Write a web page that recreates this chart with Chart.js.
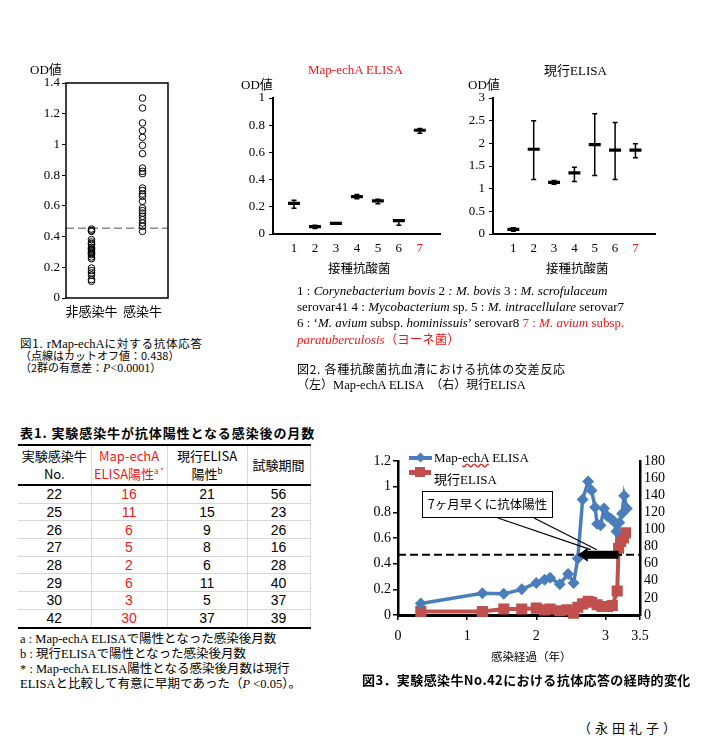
<!DOCTYPE html>
<html lang="ja">
<head>
<meta charset="utf-8">
<title>Map-echA ELISA</title>
<script src="https://cdn.jsdelivr.net/npm/chart.js@4.4.1/dist/chart.umd.min.js"></script>
<style>
  body { margin:0; width:705px; height:744px; position:relative; overflow:hidden; background:#fff; color:#000;
         font-family:'Liberation Serif','Noto Sans CJK JP',serif; }
  canvas { position:absolute; }
  .t { position:absolute; white-space:nowrap; line-height:16px; }
  .g { font-family:'Noto Sans CJK JP',sans-serif; }
  .s { font-family:'Liberation Serif',serif; }
  .red { color:#f01818; }
  #tbl { position:absolute; left:18px; top:444px; width:292px; border-collapse:collapse; table-layout:fixed;
         font-family:'Liberation Sans','Noto Sans CJK JP',sans-serif; font-size:14px; }
  #tbl th { font-weight:normal; font-size:13px; line-height:18px; height:38px; padding:0;
            border-top:2px solid #000; border-bottom:2px solid #000; font-family:'Noto Sans CJK JP',sans-serif; }
  #tbl td { height:16.7px; padding:0; line-height:16px; text-align:center; border-bottom:1px solid #d8d8d8; }
  #tbl th, #tbl td { border-right:1px solid #d8d8d8; }
  #tbl tr:last-child td { border-bottom:2px solid #000; }
  #tbl sup { font-size:8px; line-height:0; }
  #box { position:absolute; border:1.5px solid #000; background:#fff; box-sizing:border-box;
         font-family:'Noto Sans CJK JP',sans-serif; font-size:12.5px; text-align:center; }
</style>
</head>
<body>
<canvas id="fig1" width="160" height="260" style="left:20px;top:70px"></canvas>
<canvas id="fig2a" width="210" height="190" style="left:240px;top:85px"></canvas>
<canvas id="fig2b" width="210" height="190" style="left:455px;top:85px"></canvas>
<canvas id="fig3" width="345" height="215" style="left:350px;top:445px"></canvas>

<!-- Fig.1 texts -->
<div class="t" style="left:30px;top:61px;font-size:13px">OD<span class="g">値</span></div>
<div class="t g" style="left:20px;top:335px;font-size:11.5px;letter-spacing:0.8px">図1. <span class="s" style="font-size:12.5px;letter-spacing:0">rMap-echA</span>に対する抗体応答</div>
<div class="t g" style="left:20px;top:347px;font-size:11px">（点線はカットオフ値：0.438）</div>
<div class="t g" style="left:20px;top:359px;font-size:11px">（2群の有意差：<i class="s" style="font-size:12px">P</i><span class="s" style="font-size:12px">&lt;0.0001</span>）</div>

<!-- Fig.2 texts -->
<div class="t red" style="left:308px;top:62px;font-size:13px">Map-echA ELISA</div>
<div class="t" style="left:241px;top:76px;font-size:13px">OD<span class="g">値</span></div>
<div class="t g" style="left:328px;top:260px;font-size:12.5px">接種抗酸菌</div>
<div class="t" style="left:544px;top:62px;font-size:13px"><span class="g">現行</span>ELISA</div>
<div class="t" style="left:468px;top:76px;font-size:13px">OD<span class="g">値</span></div>
<div class="t g" style="left:546px;top:260px;font-size:12.5px">接種抗酸菌</div>

<div class="t" style="left:297px;top:283px;font-size:13px">1 : <i>Corynebacterium bovis</i> 2 <i>: M. bovis</i> 3 : <i>M. scrofulaceum</i></div>
<div class="t" style="left:297px;top:299px;font-size:13px">serovar41 4 : <i>Mycobacterium</i> sp. 5 : <i>M. intracellulare</i> serovar7</div>
<div class="t" style="left:297px;top:315px;font-size:13px">6 : ‘<i>M. avium</i> subsp. <i>hominissuis</i>’ serovar8 <span class="red">7 : <i>M. avium</i> subsp.</span></div>
<div class="t red" style="left:297px;top:331px;font-size:13px"><i>paratuberculosis</i><span class="g" style="font-size:12.5px">（ヨーネ菌）</span></div>
<div class="t g" style="left:297px;top:361px;font-size:12px;letter-spacing:0.7px">図2. 各種抗酸菌抗血清における抗体の交差反応</div>
<div class="t g" style="left:297px;top:376px;font-size:12px">（左）<span class="s" style="font-size:12.5px">Map-echA ELISA</span>　（右）現行<span class="s" style="font-size:12.5px">ELISA</span></div>

<!-- Table 1 -->
<div class="t g" style="left:20px;top:425px;font-size:13px;font-weight:bold;letter-spacing:0.9px">表1. 実験感染牛が抗体陽性となる感染後の月数</div>
<table id="tbl">
  <colgroup><col style="width:73px"><col style="width:76px"><col style="width:80px"><col style="width:63px"></colgroup>
  <thead><tr>
    <th>実験感染牛<br>No.</th>
    <th class="red">Map-echA<br>ELISA陽性<sup>a *</sup></th>
    <th>現行ELISA<br>陽性<sup>b</sup></th>
    <th>試験期間</th>
  </tr></thead>
  <tbody></tbody>
</table>
<div class="t" style="left:20px;top:630px;font-size:12.5px">a : Map-echA ELISA<span class="g">で陽性となった感染後月数</span></div>
<div class="t" style="left:20px;top:645px;font-size:12.5px">b : <span class="g">現行</span>ELISA<span class="g">で陽性となった感染後月数</span></div>
<div class="t" style="left:20px;top:660px;font-size:12.5px">* : Map-echA ELISA<span class="g">陽性となる感染後月数は現行</span></div>
<div class="t" style="left:20px;top:675px;font-size:12.5px">ELISA<span class="g">と比較して有意に早期であった（</span><i>P</i> &lt;0.05<span class="g">）。</span></div>

<!-- Fig.3 texts -->
<div style="position:absolute;left:409px;top:456px;width:23px;height:4px;background:#4a7ebb"></div>
<div style="position:absolute;left:417px;top:454px;width:7px;height:7px;background:#4a7ebb;transform:rotate(45deg)"></div>
<div class="t" style="left:434px;top:450px;font-size:13px">Map-<span style="text-decoration:underline wavy #e02020">echA</span> ELISA</div>
<div style="position:absolute;left:409px;top:470px;width:22px;height:5px;background:#c0504d"></div>
<div style="position:absolute;left:415px;top:467px;width:10px;height:10px;background:#c0504d"></div>
<div class="t" style="left:434px;top:471px;font-size:13px"><span class="g">現行</span>ELISA</div>
<div id="box">7ヶ月早くに抗体陽性</div>
<div class="t g" style="left:491px;top:648px;font-size:11.5px">感染経過（年）</div>
<div class="t g" style="left:362px;top:672px;font-size:13px;font-weight:bold;letter-spacing:0.4px">図3．実験感染牛No.42における抗体応答の経時的変化</div>

<div class="t g" style="left:578px;top:720px;font-size:13px;letter-spacing:4px">（永田礼子）</div>

<script>
// ---- Fig.1 : rMap-echA OD values
const GROUPS = ['非感染牛', '感染牛'];
const OD_NON_INFECTED = [0.449, 0.44, 0.434, 0.38, 0.365, 0.355, 0.347, 0.33, 0.32, 0.315, 0.305,
  0.297, 0.29, 0.282, 0.267, 0.256, 0.195, 0.178, 0.163, 0.148, 0.12, 0.109];
const OD_INFECTED = [1.302, 1.237, 1.14, 1.09, 1.046, 0.994, 0.94, 0.846, 0.825, 0.81, 0.716, 0.70,
  0.677, 0.662, 0.63, 0.586, 0.569, 0.553, 0.532, 0.51, 0.488, 0.467, 0.434];
const CUTOFF_DRAWN = 0.455;

// ---- Fig.2 : cross reaction, mean and range per strain
const STRAINS = ['1', '2', '3', '4', '5', '6', '7'];
const MAP_MEAN = [0.225, 0.054, 0.078, 0.275, 0.243, 0.098, 0.763];
const MAP_LO   = [0.19, 0.04, 0.078, 0.26, 0.222, 0.064, 0.74];
const MAP_HI   = [0.248, 0.064, 0.078, 0.29, 0.255, 0.105, 0.775];
const CUR_MEAN = [0.1, 1.87, 1.14, 1.35, 1.97, 1.85, 1.85];
const CUR_LO   = [0.06, 1.2, 1.1, 1.16, 1.29, 1.2, 1.68];
const CUR_HI   = [0.14, 2.5, 1.18, 1.47, 2.65, 2.46, 1.99];

// ---- Table 1
const COW_NO      = [22, 25, 26, 27, 28, 29, 30, 42];
const MAP_MONTHS  = [16, 11, 6, 5, 2, 6, 3, 30];
const CUR_MONTHS  = [21, 15, 9, 8, 6, 11, 5, 37];
const TEST_MONTHS = [56, 23, 26, 16, 28, 40, 37, 39];

// ---- Fig.3 : cow No.42 time course
const MAP_YEARS = [0.33, 1.22, 1.53, 1.79, 2.0, 2.12, 2.2, 2.34, 2.46, 2.54, 2.6, 2.67, 2.75, 2.8, 2.85,
  2.88, 2.93, 2.98, 3.03, 3.08, 3.12, 3.16, 3.2, 3.24, 3.27, 3.31];
const MAP_OD = [0.09, 0.17, 0.165, 0.2, 0.25, 0.275, 0.29, 0.24, 0.32, 0.25, 0.44, 0.9, 1.04, 0.97, 0.84,
  0.71, 0.7, 0.83, 0.77, 0.75, 0.73, 0.65, 0.72, 0.79, 0.93, 0.83];
const CUR_YEARS = [0.33, 1.22, 1.53, 1.79, 2.0, 2.12, 2.2, 2.34, 2.44, 2.54, 2.6, 2.67, 2.75, 2.8, 2.88,
  2.95, 3.03, 3.1, 3.17, 3.19, 3.22, 3.26, 3.29];
const CUR_VALUE = [4, 4, 7, 7, 8, 6, 7, 5, 6, 2, 9, 13, 16, 15, 12, 10, 10, 11, 28, 78, 86, 90, 96];
const YEAR_TICKS = [0, 1, 2, 3, 3.5];
const POSITIVE_LINE = 0.47;
const ARROW_YEARS = [3.19, 2.6];   // 現行ELISA positive -> Map-echA positive

Chart.defaults.font.family = "'Liberation Serif', 'Noto Sans CJK JP', serif";
Chart.defaults.font.size = 13;
Chart.defaults.color = '#000';
Chart.defaults.animation = false;
Chart.defaults.plugins.legend.display = false;
Chart.defaults.plugins.tooltip.enabled = false;

const fixW = w => s => { s.width = w; };
const fixH = h => s => { s.height = h; };
const plain = v => String(+(+v).toFixed(2));   // 1 not 1.0, 0.2 not 0.20

// border round the plot area (fig.1)
const frame = {
  id: 'frame',
  afterDraw(chart) {
    const { ctx, chartArea: a } = chart;
    ctx.save();
    ctx.strokeStyle = '#000';
    ctx.lineWidth = 1.5;
    ctx.strokeRect(a.left, a.top, a.right - a.left, a.bottom - a.top);
    ctx.restore();
  }
};

// range bars (fig.2)
const errorBars = {
  id: 'errorBars',
  beforeDatasetsDraw(chart) {
    const { ctx, scales: { x, y } } = chart;
    const ds = chart.data.datasets[0];
    ctx.save();
    ctx.strokeStyle = '#000';
    ctx.lineWidth = 1.5;
    ds.errLo.forEach((lo, i) => {
      const px = x.getPixelForValue(i + 1);
      const top = y.getPixelForValue(ds.errHi[i]);
      const bot = y.getPixelForValue(lo);
      ctx.beginPath();
      ctx.moveTo(px, top); ctx.lineTo(px, bot);
      ctx.moveTo(px - 2.5, top); ctx.lineTo(px + 2.5, top);
      ctx.moveTo(px - 2.5, bot); ctx.lineTo(px + 2.5, bot);
      ctx.stroke();
    });
    ctx.restore();
  }
};

// ---- Fig.1
new Chart(document.getElementById('fig1'), {
  type: 'scatter',
  data: {
    datasets: [
      { data: OD_NON_INFECTED.map(v => ({ x: 1, y: v })) },
      { data: OD_INFECTED.map(v => ({ x: 2, y: v })) },
      { type: 'line', data: [{ x: 0.5, y: CUTOFF_DRAWN }, { x: 2.5, y: CUTOFF_DRAWN }],
        borderColor: '#888', borderWidth: 1.5, borderDash: [8, 4], pointRadius: 0 }
    ]
  },
  options: {
    responsive: false,
    elements: { point: { radius: 3.3, borderWidth: 1, borderColor: '#000', backgroundColor: 'rgba(0,0,0,0)' } },
    layout: { padding: { top: 13, right: 12, bottom: 2, left: 0 } },
    scales: {
      x: {
        type: 'linear', min: 0.5, max: 2.5,
        afterBuildTicks: s => { s.ticks = GROUPS.map((g, i) => ({ value: i + 1 })); },
        ticks: { callback: v => GROUPS[v - 1], padding: 5, autoSkip: false, maxRotation: 0, minRotation: 0,
                 font: { family: "'Noto Sans CJK JP', sans-serif", size: 13 } },
        grid: { display: false, drawTicks: false }, border: { display: false },
        afterFit: fixH(30)
      },
      y: {
        min: 0, max: 1.4,
        ticks: { stepSize: 0.2, padding: 2, callback: plain },
        grid: { drawOnChartArea: false, tickLength: 4, color: '#000' },
        border: { display: false },
        afterFit: fixW(46)
      }
    }
  },
  plugins: [frame]
});

// ---- Fig.2
function crossChart(id, mean, lo, hi, ymax, step, yWidth, padRight) {
  return new Chart(document.getElementById(id), {
    type: 'scatter',
    data: {
      datasets: [{
        data: mean.map((v, i) => ({ x: i + 1, y: v })),
        errLo: lo, errHi: hi,
        pointStyle: 'line', pointRadius: 6, pointBorderWidth: 3.2, borderColor: '#000'
      }]
    },
    options: {
      responsive: false,
      layout: { padding: { top: 13, right: padRight, bottom: 19, left: 0 } },
      scales: {
        x: {
          type: 'linear', min: 0, max: STRAINS.length + 1,
          afterBuildTicks: s => { s.ticks = STRAINS.map((t, i) => ({ value: i + 1 })); },
          ticks: { callback: v => STRAINS[v - 1], padding: 7, autoSkip: false, maxRotation: 0,
                   color: c => c.index === STRAINS.length - 1 ? '#f01818' : '#000' },
          grid: { display: false, drawTicks: false },
          border: { color: '#000', width: 2 },
          afterFit: fixH(22)
        },
        y: {
          min: 0, max: ymax,
          ticks: { stepSize: step, padding: 4, callback: plain },
          grid: { drawOnChartArea: false, tickLength: 4, color: '#000' },
          border: { color: '#000', width: 2 },
          afterFit: fixW(yWidth)
        }
      }
    },
    plugins: [errorBars]
  });
}
crossChart('fig2a', MAP_MEAN, MAP_LO, MAP_HI, 1, 0.2, 33, 8);
crossChart('fig2b', CUR_MEAN, CUR_LO, CUR_HI, 3, 0.5, 38, 7);

// ---- Table 1
const tbody = document.querySelector('#tbl tbody');
COW_NO.forEach((no, i) => {
  const tr = document.createElement('tr');
  tr.innerHTML = `<td>${no}</td><td class="red">${MAP_MONTHS[i]}</td><td>${CUR_MONTHS[i]}</td><td>${TEST_MONTHS[i]}</td>`;
  tbody.appendChild(tr);
});

// ---- Fig.3
const BOX = { dx: 24, dy: 30, w: 131, h: 27 };
const callout = {
  id: 'callout',
  afterDatasetsDraw(chart) {
    const { ctx, chartArea: a, scales: { x, y } } = chart;
    const yy = y.getPixelForValue(POSITIVE_LINE);
    const xTip = x.getPixelForValue(ARROW_YEARS[1]);
    const xEnd = x.getPixelForValue(ARROW_YEARS[0]);
    ctx.save();
    // pointer lines from the box
    ctx.strokeStyle = '#000';
    ctx.lineWidth = 1.2;
    const by = a.top + BOX.dy + BOX.h;
    ctx.beginPath();
    ctx.moveTo(a.left + 100, by); ctx.lineTo(xTip + 13, yy - 5);
    ctx.moveTo(a.left + 136, by); ctx.lineTo(xTip + 19, yy - 5);
    ctx.stroke();
    // big arrow
    ctx.fillStyle = '#000';
    ctx.beginPath();
    ctx.moveTo(xTip, yy);
    ctx.lineTo(xTip + 10, yy - 7);
    ctx.lineTo(xTip + 10, yy - 4);
    ctx.lineTo(xEnd, yy - 4);
    ctx.lineTo(xEnd, yy + 4);
    ctx.lineTo(xTip + 10, yy + 4);
    ctx.lineTo(xTip + 10, yy + 7);
    ctx.closePath();
    ctx.fill();
    ctx.restore();
  }
};

const c3 = document.getElementById('fig3');
const fig3 = new Chart(c3, {
  type: 'scatter',
  data: {
    datasets: [
      { data: [{ x: 0, y: POSITIVE_LINE }, { x: 3.5, y: POSITIVE_LINE }], showLine: true,
        borderColor: '#000', borderWidth: 2, borderDash: [8, 4], pointRadius: 0, yAxisID: 'y' },
      { data: MAP_YEARS.map((v, i) => ({ x: v, y: MAP_OD[i] })), showLine: true, yAxisID: 'y',
        borderColor: '#4a7ebb', backgroundColor: '#4a7ebb', borderWidth: 3.5,
        pointStyle: 'rectRot', pointRadius: 3.5, clip: false },
      { data: CUR_YEARS.map((v, i) => ({ x: v, y: CUR_VALUE[i] })), showLine: true, yAxisID: 'y2',
        borderColor: '#c0504d', backgroundColor: '#c0504d', borderWidth: 4,
        pointStyle: 'rect', pointRadius: 5, clip: false }
    ]
  },
  options: {
    responsive: false,
    layout: { padding: { top: 16, right: 7, bottom: 18, left: 0 } },
    scales: {
      x: {
        type: 'linear', min: 0, max: 3.5,
        afterBuildTicks: s => { s.ticks = YEAR_TICKS.map(v => ({ value: v })); },
        ticks: { font: { size: 14 }, padding: 8, autoSkip: false, maxRotation: 0, callback: plain },
        grid: { drawOnChartArea: false, tickLength: 5, color: '#000', lineWidth: 1.5 },
        border: { color: '#000', width: 3 },
        afterFit: fixH(27)
      },
      y: {
        min: 0, max: 1.2,
        ticks: { stepSize: 0.2, font: { size: 14 }, padding: 2, autoSkip: false, callback: plain },
        grid: { drawOnChartArea: false, tickLength: 5, color: '#000', lineWidth: 1.5 },
        border: { color: '#000', width: 2.5 },
        afterFit: fixW(48)
      },
      y2: {
        position: 'right', min: 0, max: 180,
        ticks: { stepSize: 20, font: { size: 14 }, padding: 4, autoSkip: false },
        grid: { drawOnChartArea: false, drawTicks: false },
        border: { color: '#000', width: 2.5 },
        afterFit: fixW(48)
      }
    }
  },
  plugins: [callout]
});

// place the text box of the call-out inside the plot area
const box = document.getElementById('box');
const a3 = fig3.chartArea;
box.style.left = (c3.offsetLeft + a3.left + BOX.dx) + 'px';
box.style.top = (c3.offsetTop + a3.top + BOX.dy) + 'px';
box.style.width = BOX.w + 'px';
box.style.height = BOX.h + 'px';
box.style.lineHeight = (BOX.h - 3) + 'px';
</script>
</body>
</html>
